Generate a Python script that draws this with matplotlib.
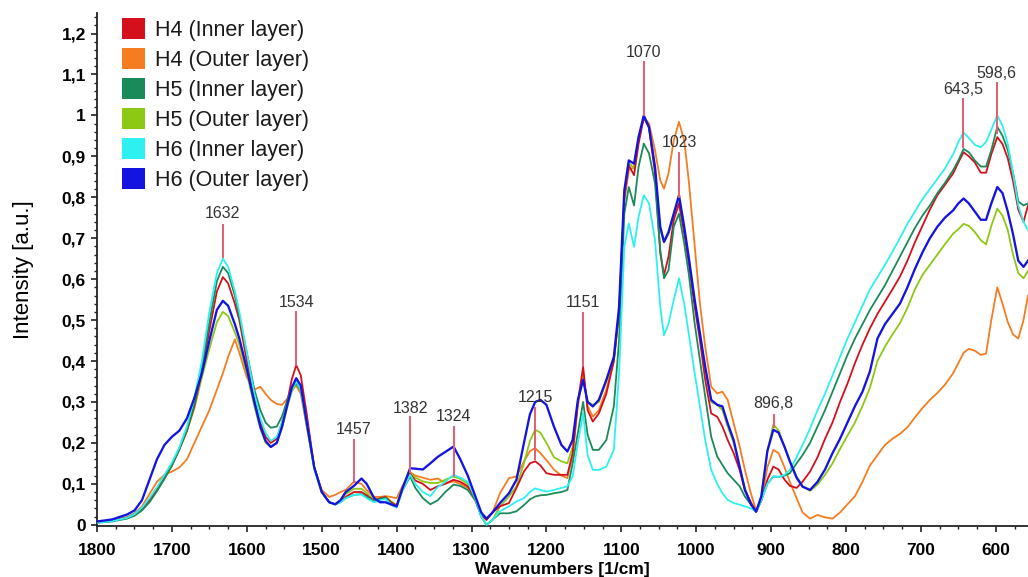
import numpy as np
import matplotlib
matplotlib.use("Agg")
import matplotlib.pyplot as plt
from matplotlib.patches import Patch
from matplotlib.ticker import MultipleLocator

plt.rcParams['font.family'] = ['Liberation Sans', 'DejaVu Sans']

# Wavenumber grid [1/cm]
wavenumbers = [
    1800, 1780, 1760, 1750, 1740, 1730, 1720, 1710, 1700, 1690, 1680, 1670, 1660, 1650, 1640, 1632, 1625,
    1616, 1610, 1600, 1590, 1582, 1575, 1568, 1560, 1553, 1545, 1540, 1534, 1528, 1520, 1510, 1500, 1490,
    1482, 1475, 1468, 1457, 1447, 1440, 1430, 1422, 1415, 1408, 1400, 1392, 1382, 1375, 1365, 1355, 1345,
    1335, 1324, 1315, 1305, 1295, 1287, 1280,
    1272, 1262, 1250, 1240, 1230, 1222, 1215, 1208, 1200, 1190, 1180, 1172, 1165, 1158, 1151,
    1145, 1138, 1130, 1120, 1110, 1103, 1096, 1090, 1083, 1077, 1070, 1063, 1055, 1048, 1043, 1037, 1030,
    1023, 1016, 1010, 1002, 995, 988, 980, 972, 965, 958, 950, 942, 935, 927, 920,
    913, 905, 897, 890, 882, 875, 866, 858, 848, 838, 828, 818, 808, 798, 788, 778, 768, 758, 748, 738,
    728, 718, 708, 698, 688, 678, 668, 657, 650, 643, 636, 628, 620, 613, 606, 598, 591, 584, 577, 570,
    563, 557,
]

h4_inner = [
    0.006, 0.010, 0.018, 0.026, 0.040, 0.060, 0.085, 0.115, 0.145, 0.185, 0.230, 0.290, 0.375, 0.475, 0.570, 0.605, 0.590,
    0.540, 0.500, 0.400, 0.310, 0.250, 0.215, 0.200, 0.210, 0.250, 0.310, 0.355, 0.390, 0.365, 0.270, 0.140, 0.080, 0.055,
    0.050, 0.058, 0.068, 0.080, 0.080, 0.072, 0.058, 0.065, 0.068, 0.056, 0.046, 0.088, 0.124, 0.108, 0.100, 0.085, 0.094,
    0.100, 0.110, 0.105, 0.094, 0.065, 0.025, 0.012,
    0.030, 0.045, 0.053, 0.090, 0.130, 0.150, 0.155, 0.145, 0.126, 0.122, 0.122, 0.122, 0.175, 0.300, 0.386,
    0.280, 0.252, 0.272, 0.320, 0.400, 0.520, 0.800, 0.878, 0.854, 0.930, 0.995, 0.970, 0.858, 0.663, 0.610, 0.655, 0.744,
    0.785, 0.711, 0.640, 0.532, 0.450, 0.354, 0.272, 0.264, 0.240, 0.207, 0.175, 0.134, 0.085, 0.055, 0.032,
    0.060, 0.110, 0.142, 0.135, 0.110, 0.095, 0.090, 0.105, 0.130, 0.165, 0.210, 0.250, 0.300, 0.345, 0.395, 0.440, 0.480, 0.515, 0.545, 0.575,
    0.606, 0.645, 0.690, 0.730, 0.770, 0.805, 0.830, 0.858, 0.885, 0.910, 0.900, 0.885, 0.860, 0.860, 0.905, 0.947, 0.930, 0.895, 0.840, 0.770,
    0.740, 0.780,
]

h4_outer = [
    0.006, 0.010, 0.018, 0.028, 0.045, 0.075, 0.105, 0.122, 0.130, 0.140, 0.160, 0.200, 0.240, 0.280, 0.330, 0.370, 0.410,
    0.453, 0.420, 0.360, 0.330, 0.337, 0.320, 0.305, 0.295, 0.293, 0.310, 0.330, 0.340, 0.320, 0.240, 0.140, 0.085, 0.068,
    0.073, 0.080, 0.085, 0.105, 0.100, 0.085, 0.068, 0.068, 0.070, 0.068, 0.065, 0.095, 0.128, 0.120, 0.115, 0.110, 0.113,
    0.102, 0.106, 0.100, 0.090, 0.060, 0.025, 0.012,
    0.030, 0.077, 0.114, 0.118, 0.155, 0.180, 0.187, 0.175, 0.158, 0.135, 0.120, 0.114, 0.170, 0.290, 0.370,
    0.290, 0.264, 0.280, 0.330, 0.400, 0.520, 0.790, 0.866, 0.874, 0.940, 0.995, 0.980, 0.915, 0.841, 0.821, 0.858, 0.939,
    0.984, 0.939, 0.841, 0.679, 0.540, 0.435, 0.337, 0.321, 0.325, 0.305, 0.248, 0.191, 0.134, 0.077, 0.035,
    0.060, 0.140, 0.183, 0.175, 0.140, 0.105, 0.065, 0.030, 0.015, 0.024, 0.018, 0.015, 0.030, 0.050, 0.070, 0.105, 0.145, 0.170, 0.195, 0.210,
    0.222, 0.238, 0.262, 0.285, 0.305, 0.322, 0.342, 0.370, 0.395, 0.420, 0.430, 0.425, 0.415, 0.418, 0.500, 0.580, 0.540, 0.495, 0.465, 0.455,
    0.500, 0.560,
]

h5_inner = [
    0.005, 0.008, 0.015, 0.022, 0.035, 0.055, 0.082, 0.112, 0.145, 0.185, 0.232, 0.295, 0.385, 0.495, 0.595, 0.630, 0.615,
    0.560, 0.510, 0.420, 0.330, 0.280, 0.250, 0.237, 0.240, 0.265, 0.310, 0.335, 0.345, 0.330, 0.250, 0.140, 0.080, 0.055,
    0.050, 0.055, 0.065, 0.073, 0.075, 0.068, 0.058, 0.063, 0.066, 0.053, 0.044, 0.085, 0.118, 0.090, 0.065, 0.050, 0.060,
    0.080, 0.098, 0.095, 0.085, 0.060, 0.020, 0.000,
    0.012, 0.028, 0.028, 0.033, 0.048, 0.062, 0.069, 0.072, 0.073, 0.077, 0.080, 0.085, 0.150, 0.224, 0.300,
    0.220, 0.183, 0.183, 0.207, 0.289, 0.450, 0.760, 0.825, 0.780, 0.874, 0.931, 0.907, 0.834, 0.671, 0.602, 0.622, 0.728,
    0.760, 0.687, 0.614, 0.491, 0.402, 0.313, 0.215, 0.167, 0.146, 0.126, 0.110, 0.094, 0.069, 0.050, 0.032,
    0.060, 0.100, 0.118, 0.117, 0.120, 0.126, 0.150, 0.170, 0.200, 0.240, 0.280, 0.325, 0.370, 0.415, 0.455, 0.490, 0.525, 0.555, 0.585, 0.620,
    0.655, 0.690, 0.725, 0.755, 0.780, 0.810, 0.835, 0.866, 0.890, 0.918, 0.910, 0.890, 0.875, 0.875, 0.915, 0.972, 0.950, 0.915, 0.860, 0.790,
    0.780, 0.785,
]

h5_outer = [
    0.006, 0.010, 0.018, 0.026, 0.040, 0.060, 0.085, 0.115, 0.145, 0.185, 0.228, 0.285, 0.360, 0.430, 0.495, 0.520, 0.510,
    0.470, 0.440, 0.370, 0.290, 0.235, 0.200, 0.190, 0.200, 0.235, 0.295, 0.325, 0.345, 0.330, 0.240, 0.140, 0.080, 0.055,
    0.050, 0.060, 0.075, 0.088, 0.088, 0.078, 0.060, 0.065, 0.068, 0.058, 0.048, 0.090, 0.126, 0.115, 0.106, 0.102, 0.102,
    0.110, 0.118, 0.112, 0.100, 0.065, 0.020, 0.000,
    0.012, 0.045, 0.069, 0.094, 0.150, 0.205, 0.232, 0.225, 0.200, 0.165, 0.155, 0.150, 0.190, 0.300, 0.360,
    0.300, 0.293, 0.300, 0.350, 0.400, 0.520, 0.800, 0.885, 0.870, 0.940, 0.995, 0.970, 0.870, 0.720, 0.690, 0.710, 0.750,
    0.789, 0.720, 0.650, 0.540, 0.460, 0.380, 0.300, 0.293, 0.280, 0.240, 0.200, 0.140, 0.090, 0.050, 0.032,
    0.070, 0.180, 0.245, 0.230, 0.190, 0.155, 0.118, 0.095, 0.083, 0.098, 0.122, 0.150, 0.185, 0.218, 0.250, 0.290, 0.335, 0.400, 0.435, 0.465,
    0.492, 0.530, 0.575, 0.610, 0.635, 0.660, 0.685, 0.711, 0.722, 0.735, 0.730, 0.715, 0.695, 0.685, 0.730, 0.772, 0.755, 0.720, 0.660, 0.615,
    0.602, 0.620,
]

h6_inner = [
    0.005, 0.009, 0.017, 0.026, 0.042, 0.065, 0.092, 0.122, 0.152, 0.190, 0.240, 0.310, 0.400, 0.520, 0.615, 0.650, 0.630,
    0.570, 0.520, 0.420, 0.320, 0.260, 0.225, 0.205, 0.215, 0.250, 0.300, 0.330, 0.350, 0.330, 0.250, 0.135, 0.080, 0.055,
    0.050, 0.055, 0.065, 0.073, 0.074, 0.065, 0.055, 0.060, 0.063, 0.050, 0.042, 0.085, 0.122, 0.100, 0.080, 0.070, 0.092,
    0.105, 0.122, 0.115, 0.105, 0.065, 0.020, 0.000,
    0.012, 0.033, 0.045, 0.057, 0.065, 0.080, 0.089, 0.085, 0.081, 0.085, 0.090, 0.094, 0.118, 0.200, 0.273,
    0.170, 0.134, 0.134, 0.142, 0.183, 0.370, 0.679, 0.736, 0.679, 0.752, 0.805, 0.785, 0.695, 0.532, 0.463, 0.491, 0.549,
    0.602, 0.540, 0.467, 0.370, 0.289, 0.207, 0.134, 0.100, 0.077, 0.061, 0.053, 0.049, 0.045, 0.040, 0.032,
    0.060, 0.100, 0.118, 0.117, 0.122, 0.134, 0.165, 0.195, 0.235, 0.280, 0.320, 0.365, 0.410, 0.455, 0.495, 0.535, 0.575, 0.605, 0.635, 0.667,
    0.700, 0.735, 0.765, 0.795, 0.820, 0.845, 0.870, 0.905, 0.935, 0.958, 0.945, 0.928, 0.922, 0.935, 0.965, 1.000, 0.975, 0.930, 0.860, 0.780,
    0.740, 0.720,
]

h6_outer = [
    0.008, 0.013, 0.025, 0.035, 0.060, 0.110, 0.160, 0.195, 0.215, 0.230, 0.260, 0.310, 0.370, 0.450, 0.525, 0.547, 0.535,
    0.490, 0.455, 0.380, 0.300, 0.240, 0.205, 0.190, 0.200, 0.240, 0.300, 0.335, 0.358, 0.340, 0.250, 0.140, 0.080, 0.055,
    0.050, 0.060, 0.080, 0.095, 0.113, 0.100, 0.065, 0.055, 0.055, 0.050, 0.045, 0.090, 0.138, 0.137, 0.135, 0.150, 0.166,
    0.178, 0.191, 0.160, 0.120, 0.070, 0.030, 0.015,
    0.030, 0.053, 0.077, 0.110, 0.200, 0.270, 0.300, 0.305, 0.293, 0.240, 0.195, 0.179, 0.207, 0.305, 0.354,
    0.300, 0.289, 0.305, 0.354, 0.410, 0.532, 0.817, 0.890, 0.882, 0.947, 1.000, 0.971, 0.874, 0.728, 0.691, 0.715, 0.760,
    0.805, 0.728, 0.654, 0.549, 0.467, 0.386, 0.305, 0.293, 0.289, 0.248, 0.207, 0.142, 0.085, 0.050, 0.032,
    0.070, 0.180, 0.232, 0.225, 0.190, 0.155, 0.115, 0.093, 0.085, 0.105, 0.135, 0.175, 0.210, 0.250, 0.290, 0.325, 0.375, 0.455, 0.490, 0.515,
    0.540, 0.580, 0.625, 0.665, 0.700, 0.728, 0.750, 0.768, 0.785, 0.797, 0.785, 0.765, 0.745, 0.745, 0.785, 0.825, 0.810, 0.765, 0.710, 0.645,
    0.630, 0.645,
]

series_labels = ['H4 (Inner layer)', 'H4 (Outer layer)', 'H5 (Inner layer)',
                 'H5 (Outer layer)', 'H6 (Inner layer)', 'H6 (Outer layer)']
series_values = [h4_inner, h4_outer, h5_inner, h5_outer, h6_inner, h6_outer]
series_colors = ['#d4101c', '#f57c20', '#1b8a5a', '#8dc814', '#2ff0f0', '#1414e0']

# Marked bands: position [1/cm], label text
band_positions = [1632, 1534, 1457, 1382, 1324, 1215, 1151, 1070, 1023, 896.8, 643.5, 598.6]
band_labels = ['1632', '1534', '1457', '1382', '1324', '1215', '1151', '1070', '1023',
               '896,8', '643,5', '598,6']

x_ticks = [1800, 1700, 1600, 1500, 1400, 1300, 1200, 1100, 1000, 900, 800, 700, 600]
y_ticks = [0.0, 0.1, 0.2, 0.3, 0.4, 0.5, 0.6, 0.7, 0.8, 0.9, 1.0, 1.1, 1.2]

fig = plt.figure(figsize=(10.28, 5.77), dpi=100)
ax = fig.add_axes([0.0944, 0.0884, 0.9056, 0.889])

wn = np.array(wavenumbers, dtype=float)
draw_order = [1, 3, 0, 2, 4, 5]
for i in draw_order:
    ax.plot(wn, series_values[i], color=series_colors[i],
            lw=1.65 if i == 5 else 1.3, zorder=2 + draw_order.index(i),
            solid_joinstyle='round')

# band markers: (label y, line top, line bottom) in intensity units
band_marks = [
    (0.761, 0.732, 0.655), (0.544, 0.520, 0.390), (0.232, 0.207, 0.105),
    (0.285, 0.264, 0.130), (0.264, 0.240, 0.118), (0.310, 0.285, 0.160),
    (0.544, 0.517, 0.390), (1.154, 1.130, 1.000), (0.934, 0.907, 0.800),
    (0.297, 0.268, 0.240), (1.063, 1.041, 0.923), (1.102, 1.080, 0.956),
]
for pos, text, (ty, top, bot) in zip(band_positions, band_labels, band_marks):
    ax.plot([pos, pos], [bot, top], color='#e35d72', lw=1.4, zorder=10)
    ax.text(pos, ty, text, ha='center', va='center', fontsize=11.5,
            color='#333333', zorder=11)

ax.set_xlim(1800, 557)
ax.set_ylim(-0.003, 1.25)

ax.set_xticks(x_ticks, labels=[str(t) for t in x_ticks], fontweight='bold', fontsize=12.5)
ax.set_yticks(y_ticks, labels=[('%g' % t).replace('.', ',') for t in y_ticks],
              fontweight='bold', fontsize=12.5)
ax.xaxis.set_minor_locator(MultipleLocator(25))
ax.yaxis.set_minor_locator(MultipleLocator(0.02))
ax.tick_params(which='major', direction='out', length=4, width=1.2, color='#222222')
ax.tick_params(which='minor', direction='out', length=2, width=1.0, color='#222222')
ax.tick_params(axis='x', which='major', pad=8)
ax.tick_params(axis='y', which='major', pad=4)

for side in ('top', 'right'):
    ax.spines[side].set_visible(False)
for side in ('left', 'bottom'):
    ax.spines[side].set_linewidth(1.3)
    ax.spines[side].set_color('#222222')

ax.set_xlabel('Wavenumbers [1/cm]', fontweight='bold', fontsize=12.5, labelpad=3)
ax.set_ylabel('Intensity [a.u.]', fontsize=16, labelpad=20)

handles = [Patch(facecolor=c, edgecolor='none', label=l)
           for c, l in zip(series_colors, series_labels)]
ax.legend(handles=handles, loc='upper left', bbox_to_anchor=(0.027, 0.990),
          frameon=False, fontsize=15.5, handlelength=1.08, handleheight=1.08,
          handletextpad=0.45, labelspacing=0.35, borderaxespad=0, borderpad=0,
          labelcolor='#1a1a1a')

fig.savefig('out.png', dpi=100)
